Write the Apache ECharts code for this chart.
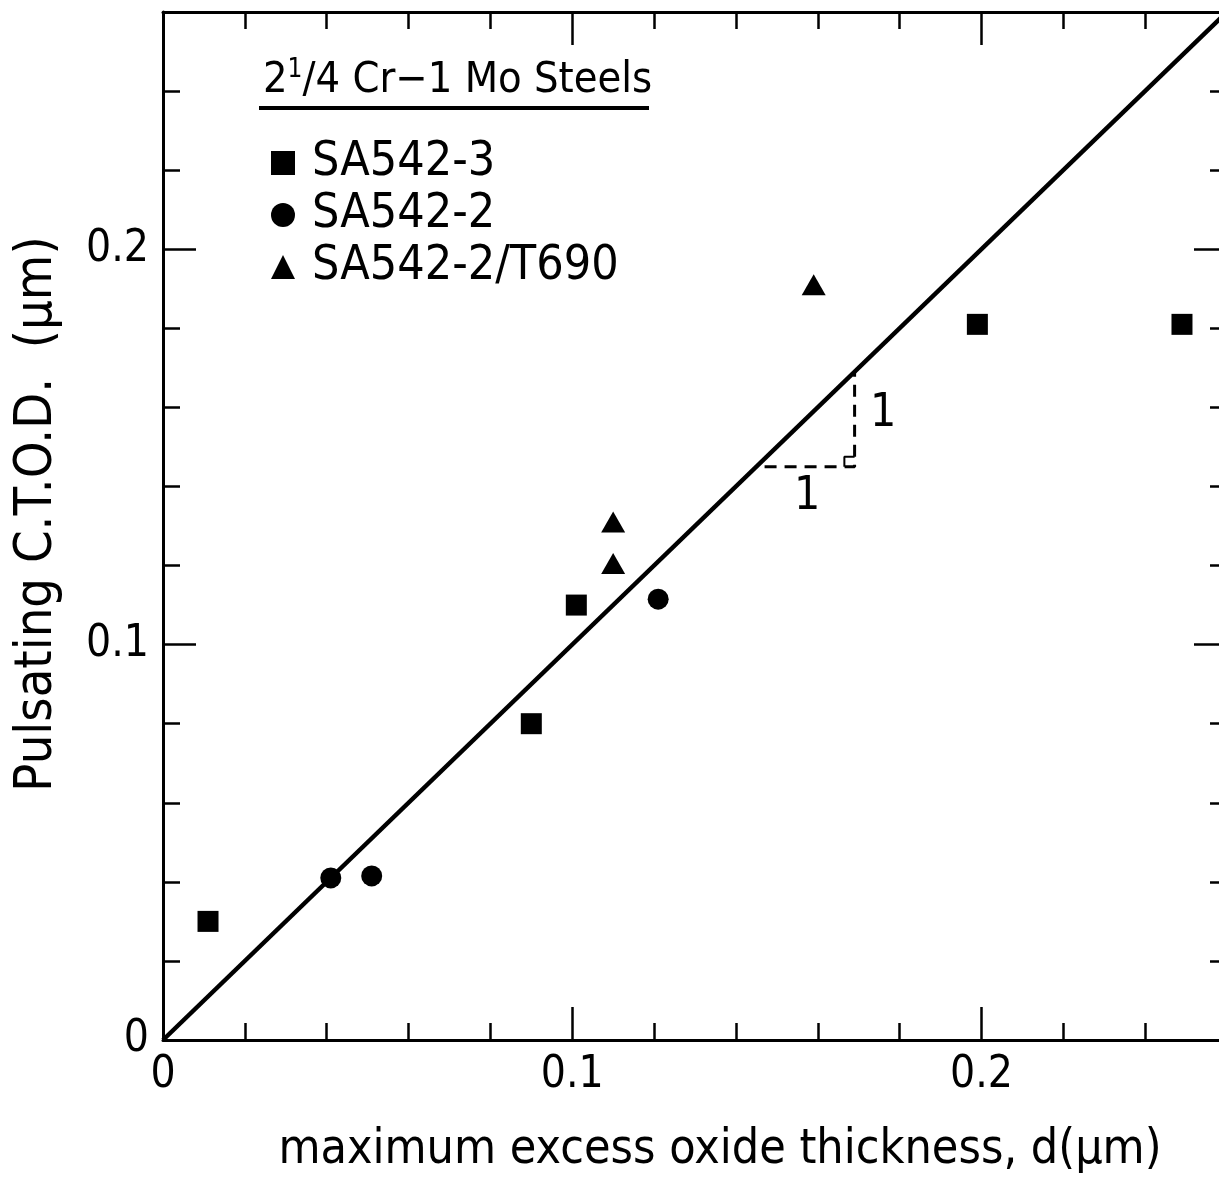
<!DOCTYPE html>
<html>
<head>
<meta charset="utf-8">
<script src="https://cdn.jsdelivr.net/npm/echarts@6/dist/echarts.min.js"></script>
<style>
  html, body { margin: 0; padding: 0; background: #fff; }
  #chart { width: 1219px; height: 1187px; }
</style>
</head>
<body>
<div id="chart"></div>
<script>
var FONT = "'DejaVu Sans Condensed', 'DejaVu Sans', sans-serif";

// data (x: oxide thickness um, y: CTOD um)
var sa5423 = [[0.011, 0.030], [0.090, 0.080], [0.101, 0.110], [0.199, 0.181], [0.249, 0.181]];
var sa5422 = [[0.041, 0.041], [0.051, 0.0415], [0.121, 0.1115]];
var sa5422T690 = [[0.159, 0.191], [0.110, 0.131], [0.110, 0.1205]];
var fitLine = [[0, 0], [0.26, 0.26]];
var slopeLegs = [[0.147, 0.145], [0.169, 0.145], [0.169, 0.169]];
var rightAngle = [[0.1665, 0.145], [0.1665, 0.1475], [0.169, 0.1475]];
var slopeLabels = [[0.1574, 0.1373], [0.176, 0.1583]];
var axisMin = 0, axisMax = 0.26, minorStep = 0.02, majorStep = 0.1;

var chart = echarts.init(document.getElementById('chart'));

function tickLabel(v) {
  var k = v / majorStep;
  if (Math.abs(k - Math.round(k)) > 1e-6) return '';
  return v === 0 ? '0' : String(Math.round(k) / 10);
}

// one axis per side with short ticks, one with long ticks
function makeAxis(pos, long, withLabels) {
  return {
    type: 'value',
    position: pos,
    min: axisMin,
    max: axisMax,
    interval: long ? majorStep : minorStep,
    splitLine: { show: false },
    axisLine: { show: !long, onZero: false, lineStyle: { color: '#000', width: 3 } },
    axisTick: { show: true, inside: true, length: long ? 33 : 17, lineStyle: { color: '#000', width: 2.5 } },
    axisLabel: withLabels ? {
      show: true, formatter: tickLabel, fontSize: 44, fontFamily: FONT, color: '#000', margin: 14
    } : { show: false }
  };
}

var xAxes = [makeAxis('bottom', false, true), makeAxis('top', false, false), makeAxis('bottom', true, false), makeAxis('top', true, false)];
var yAxes = [makeAxis('left', false, true), makeAxis('right', false, false), makeAxis('left', true, false), makeAxis('right', true, false)];

xAxes[0].name = 'maximum excess oxide thickness, d(μm)';
xAxes[0].nameLocation = 'middle';
xAxes[0].nameGap = 87;
xAxes[0].nameTextStyle = { fontSize: 48, fontFamily: FONT, color: '#000', padding: [0, 0, 0, 50] };

yAxes[0].name = 'Pulsating C.T.O.D.  (μm)';
yAxes[0].nameLocation = 'middle';
yAxes[0].nameGap = 100;
yAxes[0].nameTextStyle = { fontSize: 52, fontFamily: FONT, color: '#000', padding: [0, 0, 0, 24] };

var option = {
  backgroundColor: '#fff',
  animation: false,
  grid: { left: 163, top: 12, width: 1064, height: 1028, containLabel: false, outerBoundsMode: 'none' },
  title: {
    left: 258,
    top: 52,
    text: '{a|2}{s|1}{a|/4 Cr−1 Mo Steels}',
    textStyle: {
      fontWeight: 'normal',
      rich: {
        a: { fontSize: 43, fontWeight: 'normal', fontFamily: FONT, color: '#000', lineHeight: 48 },
        s: { fontSize: 26, fontWeight: 'normal', fontFamily: FONT, color: '#000', lineHeight: 48, verticalAlign: 'top' }
      }
    }
  },
  graphic: [
    { type: 'line', shape: { x1: 259, y1: 108, x2: 649, y2: 108 }, style: { stroke: '#000', lineWidth: 4 } }
  ],
  legend: {
    orient: 'vertical',
    left: 266,
    top: 134,
    itemWidth: 24,
    itemHeight: 24,
    itemGap: 4,
    data: [
      { name: 'SA542-3', icon: 'rect' },
      { name: 'SA542-2', icon: 'circle' },
      { name: 'SA542-2/T690', icon: 'triangle' }
    ],
    textStyle: { fontSize: 48, fontFamily: FONT, color: '#000', lineHeight: 46, padding: [0, 0, 0, 12] },
    selectedMode: false
  },
  xAxis: xAxes,
  yAxis: yAxes,
  series: [
    {
      type: 'line', data: fitLine, symbol: 'none', silent: true,
      lineStyle: { color: '#000', width: 4.5 }
    },
    {
      type: 'line', data: slopeLegs, symbol: 'none', silent: true,
      lineStyle: { color: '#000', width: 3, type: [12, 8] }
    },
    {
      type: 'line', data: rightAngle, symbol: 'none', silent: true,
      lineStyle: { color: '#000', width: 2 }
    },
    {
      type: 'scatter', data: slopeLabels, symbolSize: 0, silent: true,
      itemStyle: { color: '#000', opacity: 1 },
      label: { show: true, position: 'inside', formatter: '1', fontSize: 46, fontFamily: FONT, color: '#000', textBorderWidth: 0 }
    },
    {
      name: 'SA542-3', type: 'scatter', data: sa5423, symbol: 'rect', symbolSize: 21,
      itemStyle: { color: '#000', opacity: 1 }
    },
    {
      name: 'SA542-2', type: 'scatter', data: sa5422, symbol: 'circle', symbolSize: 21,
      itemStyle: { color: '#000', opacity: 1 }
    },
    {
      name: 'SA542-2/T690', type: 'scatter', data: sa5422T690, symbol: 'triangle', symbolSize: [24, 21],
      itemStyle: { color: '#000', opacity: 1 }
    }
  ]
};

chart.setOption(option);
</script>
</body>
</html>
